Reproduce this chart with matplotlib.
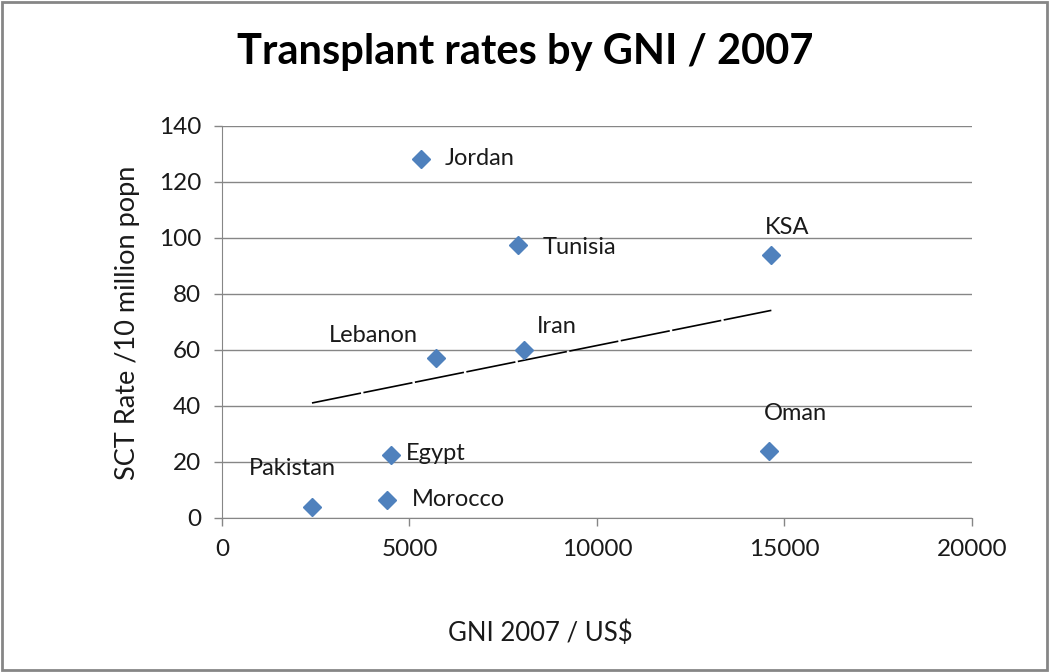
"""
Transplant rates by GNI / 2007 - scatter com linha de tendência
"""
import matplotlib
matplotlib.use('Agg')
import matplotlib.pyplot as plt
import numpy as np

# Dados
paises = ['Pakistan', 'Morocco', 'Egypt', 'Jordan', 'Lebanon',
          'Tunisia', 'Iran', 'KSA', 'Oman']
gni = [2400, 4400, 4500, 5300, 5700, 7900, 8050, 14650, 14600]
taxa = [4, 6.5, 22.6, 128.3, 57.3, 97.4, 59.9, 93.8, 23.8]

# Deslocamento dos rótulos (pixels)
desloc = {
    'Pakistan': (-63, 38), 'Morocco': (25, 0), 'Egypt': (15, 1),
    'Jordan': (24, 0), 'Lebanon': (-107, 22), 'Tunisia': (24, -2),
    'Iran': (13, 24), 'KSA': (-6, 28), 'Oman': (-6, 38),
}

plt.rcParams['font.family'] = ['Lato', 'DejaVu Sans']

fig = plt.figure(figsize=(10.5, 6.72), dpi=100)
ax = fig.add_axes([0.2114, 0.2292, 0.7143, 0.5833])

cinza = '#868686'

ax.plot(gni, taxa, linestyle='none', marker='D', markersize=9.5,
        color='#4F81BD', zorder=3)

# Linha de tendência linear (como no Excel)
coef = np.polyfit(gni, taxa, 1)
xs = np.array([min(gni), max(gni)])
ax.plot(xs, np.polyval(coef, xs), color='black', linewidth=1.2,
        linestyle=(0, (30, 1.5)), zorder=2)

for nome, x, y in zip(paises, gni, taxa):
    dx, dy = desloc[nome]
    ax.annotate(nome, (x, y), xytext=(dx, dy), textcoords='offset pixels',
                ha='left', va='center', fontsize=17, color='#1a1a1a')

ax.set_xlim(0, 20000)
ax.set_ylim(0, 140)
ax.set_xticks(range(0, 20001, 5000))
ax.set_yticks(range(0, 141, 20))
ax.tick_params(labelsize=17.5, colors=cinza, labelcolor='#1a1a1a',
               length=6, width=1, pad=9)
ax.grid(axis='y', color=cinza, linewidth=1)
ax.set_axisbelow(True)
for lado in ['top', 'right']:
    ax.spines[lado].set_visible(False)
for lado in ['left', 'bottom']:
    ax.spines[lado].set_color(cinza)

fig.text(0.5, 0.922, 'Transplant rates by GNI / 2007', ha='center',
         va='center', fontsize=30, fontweight='bold')
fig.text(0.515, 0.058, 'GNI 2007 / US$', ha='center', va='center',
         fontsize=18.5, color='#1a1a1a')
fig.text(0.121, 0.52, 'SCT Rate /10 million popn', ha='center',
         va='center', rotation=90, fontsize=19.5, color='#1a1a1a')

# Borda da figura
fig.patches.append(plt.Rectangle((0.002, 0.003), 0.995, 0.994,
                                 transform=fig.transFigure, fill=False,
                                 edgecolor=cinza, linewidth=2))

plt.savefig('out.png', dpi=100)
plt.close(fig)
